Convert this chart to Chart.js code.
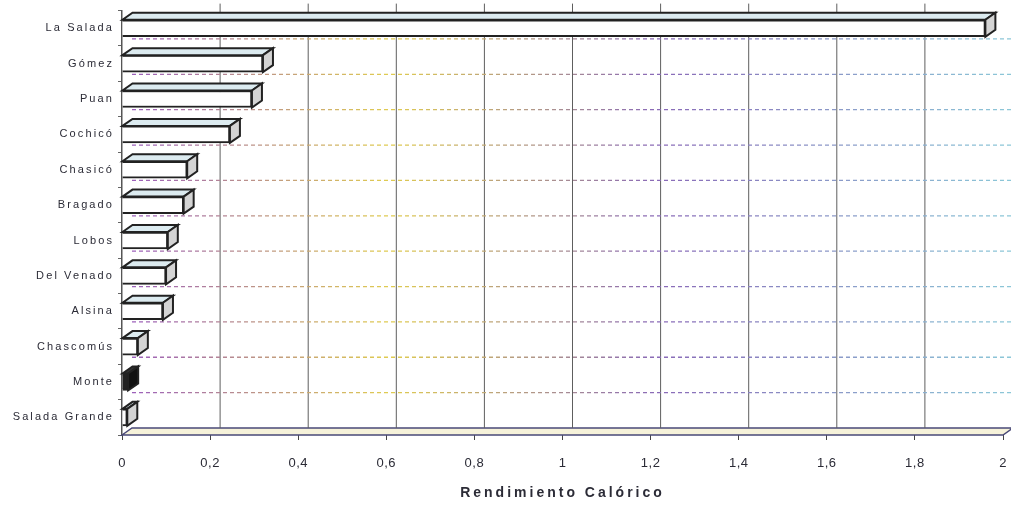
<!DOCTYPE html>
<html>
<head>
<meta charset="utf-8">
<script src="https://cdn.jsdelivr.net/npm/chart.js@4"></script>
<style>
  html, body { margin: 0; padding: 0; background: #fff; }
  #wrap { width: 1011px; height: 508px; }
</style>
</head>
<body>
<div id="wrap"><canvas id="chart"></canvas></div>
<script>
const lagunas = ['La Salada', 'Gómez', 'Puan', 'Cochicó', 'Chasicó', 'Bragado', 'Lobos',
                 'Del Venado', 'Alsina', 'Chascomús', 'Monte', 'Salada Grande'];
const rendimiento = [1.96, 0.32, 0.295, 0.245, 0.148, 0.14, 0.104, 0.1, 0.093, 0.036, 0.014, 0.012];
const xTicks = [0, 0.2, 0.4, 0.6, 0.8, 1, 1.2, 1.4, 1.6, 1.8, 2];

// depth of the 3d effect
const DX = 10, DY = 7;

const fillColors = lagunas.map(l => l === 'Monte' ? '#222' : '#fff');

// the scanned original has widely spaced lettering
function spaced(scale, method, spacing) {
  if (scale['_orig_' + method]) return;
  const orig = scale[method];
  scale['_orig_' + method] = orig;
  scale[method] = function (...args) {
    const ctx = this.ctx;
    ctx.save();
    ctx.letterSpacing = spacing;
    orig.apply(this, args);
    ctx.restore();
  };
}

const backWall = {
  id: 'backWall',
  beforeDatasetsDraw(chart) {
    const { ctx, chartArea: a, scales: { x, y } } = chart;
    ctx.save();
    // floor
    ctx.beginPath();
    ctx.moveTo(a.left, a.bottom);
    ctx.lineTo(a.left + DX, a.bottom - DY);
    ctx.lineTo(a.right + DX, a.bottom - DY);
    ctx.lineTo(a.right, a.bottom);
    ctx.closePath();
    ctx.fillStyle = '#f6f2da';
    ctx.fill();
    ctx.strokeStyle = '#4a4a78';
    ctx.lineWidth = 1.5;
    ctx.stroke();

    // vertical grid lines on the back wall
    ctx.lineWidth = 1;
    ctx.strokeStyle = '#5e5e5e';
    xTicks.forEach(v => {
      if (v === 0) return;
      const px = x.getPixelForValue(v) + DX;
      ctx.beginPath();
      ctx.moveTo(px, a.top - DY);
      ctx.lineTo(px, a.bottom - DY);
      ctx.stroke();
    });

    // dashed horizontal lines at category boundaries
    const grad = ctx.createLinearGradient(a.left, 0, a.right + DX, 0);
    grad.addColorStop(0, '#9a5cc0');
    grad.addColorStop(0.3, '#e0cc50');
    grad.addColorStop(0.6, '#8a6ab8');
    grad.addColorStop(1, '#8cc8d8');
    ctx.strokeStyle = grad;
    ctx.lineWidth = 1.3;
    ctx.setLineDash([4, 3]);
    for (let i = 0; i < lagunas.length - 1; i++) {
      const py = (y.getPixelForValue(i) + y.getPixelForValue(i + 1)) / 2 - DY;
      ctx.beginPath();
      ctx.moveTo(a.left + DX, py);
      ctx.lineTo(a.right + DX, py);
      ctx.stroke();
    }
    ctx.restore();
  }
};

const bars3d = {
  id: 'bars3d',
  afterDatasetsDraw(chart) {
    const { ctx } = chart;
    const meta = chart.getDatasetMeta(0);
    ctx.save();
    ctx.lineWidth = 2;
    ctx.strokeStyle = '#222';
    meta.data.forEach((bar, i) => {
      const p = bar.getProps(['x', 'y', 'base', 'height'], true);
      const top = p.y - p.height / 2, bottom = p.y + p.height / 2;
      const dark = lagunas[i] === 'Monte';
      // top face
      ctx.beginPath();
      ctx.moveTo(p.base, top);
      ctx.lineTo(p.base + DX, top - DY);
      ctx.lineTo(p.x + DX, top - DY);
      ctx.lineTo(p.x, top);
      ctx.closePath();
      ctx.fillStyle = dark ? '#333' : '#dcebf0';
      ctx.fill();
      ctx.stroke();
      // side face
      ctx.beginPath();
      ctx.moveTo(p.x, top);
      ctx.lineTo(p.x + DX, top - DY);
      ctx.lineTo(p.x + DX, bottom - DY);
      ctx.lineTo(p.x, bottom);
      ctx.closePath();
      ctx.fillStyle = dark ? '#111' : '#d4d4d4';
      ctx.fill();
      ctx.stroke();
    });
    ctx.restore();
  }
};

new Chart(document.getElementById('chart'), {
  type: 'bar',
  data: {
    labels: lagunas,
    datasets: [{
      data: rendimiento,
      backgroundColor: fillColors,
      borderColor: '#222',
      borderWidth: 2,
      barThickness: 17
    }]
  },
  plugins: [backWall, bars3d],
  options: {
    indexAxis: 'y',
    responsive: true,
    maintainAspectRatio: false,
    animation: false,
    layout: { padding: { top: 9, right: 8, bottom: 0 } },
    plugins: { legend: { display: false }, tooltip: { enabled: false } },
    scales: {
      x: {
        min: 0,
        max: 2,
        afterBuildTicks: s => { s.ticks = xTicks.map(v => ({ value: v })); },
        afterFit: s => {
          s.height = 73;
          s.paddingRight = 0;
          spaced(s, 'drawTitle', '3px');
          spaced(s, 'drawLabels', '0.5px');
        },
        border: { display: false },
        grid: { drawOnChartArea: false, drawTicks: true, tickLength: 5, color: '#444' },
        ticks: {
          padding: 16,
          color: '#2b2b36',
          font: { family: 'Liberation Sans', size: 13 },
          callback: v => String(Number(v.toFixed(1))).replace('.', ',')
        },
        title: {
          display: true,
          text: 'Rendimiento Calórico',
          color: '#2b2b36',
          font: { family: 'Liberation Sans', size: 14, weight: 'bold' },
          padding: { top: 10, bottom: 6 }
        }
      },
      y: {
        afterFit: s => { s.width = 122; spaced(s, 'drawLabels', '2.1px'); },
        border: { display: true, color: '#555', width: 1.5 },
        grid: { drawOnChartArea: false, drawTicks: true, tickLength: 4, offset: true, color: '#666' },
        ticks: {
          padding: 4,
          color: '#2b2b36',
          font: { family: 'Liberation Sans', size: 11 }
        }
      }
    }
  }
});
</script>
</body>
</html>
